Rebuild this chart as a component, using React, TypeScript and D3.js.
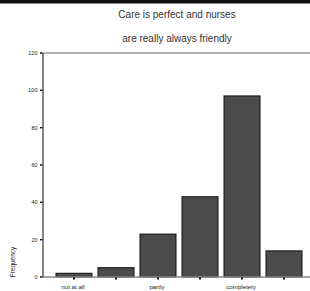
import React from "react";
import * as d3 from "d3";

const categories = ["not at all", "b", "partly", "d", "completely", "f"];
const shownLabels = ["not at all", "", "partly", "", "completely", ""];
const values = [2, 5, 23, 43, 97, 14];
const yTicks = [0, 20, 40, 60, 80, 100, 120];
const titleLines = ["Care is perfect and nurses", "are really always friendly"];

const W = 310;
const H = 291;

export default function App() {
  const x = d3
    .scaleBand<string>()
    .domain(categories)
    .range([53, 305])
    .paddingInner(6 / 42)
    .paddingOuter(3 / 42);
  const y = d3.scaleLinear().domain([0, 120]).range([277, 53]);
  const axisX = 43;
  const font = "Liberation Sans, Arial, sans-serif";

  return (
    <svg
      width={W}
      height={H}
      style={{ position: "absolute", left: 0, top: 0, background: "#fff" }}
    >
      <rect x={0} y={0} width={W} height={3} fill="#111" />
      <rect x={0} y={3} width={W} height={1} fill="#888" />
      {titleLines.map((t, i) => (
        <text
          key={i}
          x={177}
          y={18 + i * 24}
          textAnchor="middle"
          fontFamily={font}
          fontSize={10}
          fill="#333"
        >
          {t}
        </text>
      ))}
      <line x1={axisX} x2={W} y1={y(120)} y2={y(120)} stroke="#999" strokeWidth={1.5} />
      {categories.map((c, i) => (
        <rect
          key={c}
          x={x(c)}
          y={y(values[i])}
          width={x.bandwidth()}
          height={y(0) - y(values[i])}
          fill="#4b4b4b"
          stroke="#111"
          strokeWidth={1}
        />
      ))}
      <line x1={axisX} x2={W} y1={y(0)} y2={y(0)} stroke="#888" strokeWidth={1.5} />
      <line x1={axisX} x2={axisX} y1={y(120)} y2={y(0)} stroke="#333" strokeWidth={1.2} />
      {yTicks.map((t) => (
        <g key={t}>
          <rect x={40} y={y(t) - 0.75} width={2.5} height={1.5} fill="#111" />
          <text
            x={37.5}
            y={y(t) + 1.9}
            textAnchor="end"
            fontFamily={font}
            fontSize={5.5}
            fill="#222"
          >
            {t}
          </text>
        </g>
      ))}
      {categories.map((c, i) => (
        <g key={"xt" + c}>
          <rect
            x={(x(c) as number) + x.bandwidth() / 2 - 1}
            y={y(0) + 0.5}
            width={2}
            height={2}
            fill="#111"
          />
          {shownLabels[i] && (
            <text
              x={(x(c) as number) + x.bandwidth() / 2 - 1}
              y={288.5}
              textAnchor="middle"
              fontFamily={font}
              fontSize={6.2}
              fill="#222"
            >
              {shownLabels[i]}
            </text>
          )}
        </g>
      ))}
      <text
        transform={`translate(15,262) rotate(-90)`}
        textAnchor="middle"
        fontFamily={font}
        fontSize={6.5}
        fill="#222"
      >
        Frequency
      </text>
    </svg>
  );
}
